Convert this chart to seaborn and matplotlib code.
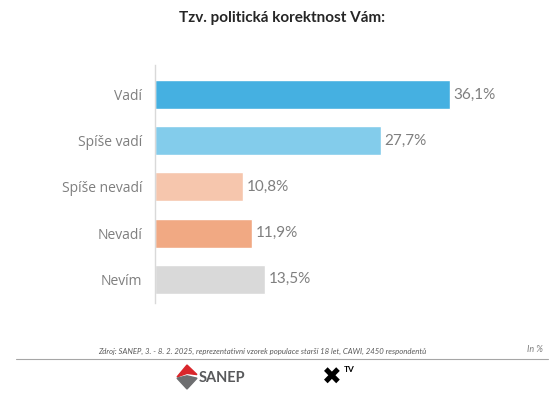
import matplotlib
matplotlib.use("Agg")
import matplotlib.pyplot as plt
import seaborn as sns
import pandas as pd
from matplotlib.patches import Polygon
from matplotlib.lines import Line2D

# data
categories = ["Vadí", "Spíše vadí", "Spíše nevadí", "Nevadí", "Nevím"]
values = [36.1, 27.7, 10.8, 11.9, 13.5]
bar_colors = ["#45B0E1", "#83CCEB", "#F6C6AD", "#F1A983", "#D9D9D9"]
value_labels = ["36,1%", "27,7%", "10,8%", "11,9%", "13,5%"]

title = "Tzv. politická korektnost Vám:"
source = "Zdroj: SANEP, 3. - 8. 2. 2025, reprezentativní vzorek populace starší 18 let, CAWI, 2450 respondentů"

sns.set_style("white")
plt.rcParams["font.family"] = ["Lato", "DejaVu Sans"]

df = pd.DataFrame({"category": categories, "value": values})

fig = plt.figure(figsize=(5.55, 3.94), dpi=100)
ax = fig.add_axes([155 / 555, 1 - 303 / 394, 327 / 555, 238 / 394])

sns.barplot(
    data=df, x="value", y="category", hue="category",
    palette=bar_colors, legend=False, width=0.63, ax=ax, saturation=1,
)

for i, (v, lab) in enumerate(zip(values, value_labels)):
    ax.text(v + 0.4, i, lab, va="center", ha="left", fontsize=11, color="#7F7F7F")

ax.set_xlim(0, 40)
ax.set_ylim(4.52, -0.65)
ax.set_xlabel("")
ax.set_ylabel("")
ax.set_xticks([])
ax.tick_params(axis="y", length=0, pad=9, labelcolor="#7F7F7F")
for lbl in ax.get_yticklabels():
    lbl.set_fontfamily(["Open Sans", "DejaVu Sans"])
    lbl.set_fontsize(10)
for side in ["top", "right", "bottom"]:
    ax.spines[side].set_visible(False)
ax.spines["left"].set_color("#D9D9D9")
ax.spines["left"].set_linewidth(1)

# title
fig.text(282 / 555, 1 - 18 / 394, title, ha="center", va="center",
         fontsize=11, fontweight="bold", color="#262626")

# footer
fig.add_artist(Line2D([16 / 555, 548 / 555], [1 - 359 / 394, 1 - 359 / 394],
                      color="#A6A6A6", linewidth=0.8))
fig.text(262 / 555, 1 - 351 / 394, source, ha="center", va="center",
         fontsize=5.6, style="italic", color="#595959")
fig.text(543 / 555, 1 - 349 / 394, "In %", ha="right", va="center",
         fontsize=6.5, style="italic", color="#7F7F7F")

# SANEP logo (simple diamond + text)
cx, cy = 187 / 555, 1 - 377 / 394
w, h = 10 / 555, 12 / 394
fig.add_artist(Polygon([[cx - w, cy], [cx, cy + h], [cx + w, cy + 0.2 * h], [cx, cy + 0.3 * h]],
                       closed=True, transform=fig.transFigure, color="#D9262B"))
fig.add_artist(Polygon([[cx - w, cy - 0.1 * h], [cx, cy + 0.1 * h], [cx + w, cy - 0.1 * h], [cx, cy - h]],
                       closed=True, transform=fig.transFigure, color="#6D6E70"))
fig.text(199 / 555, 1 - 378 / 394, "SANEP", ha="left", va="center",
         fontsize=10.5, fontweight="bold", color="#58595B")

# XTV logo
fig.text(332 / 555, 1 - 378 / 394, "\u2716", ha="center", va="center",
         fontsize=17, color="black", family=["DejaVu Sans"])
fig.text(344 / 555, 1 - 370 / 394, "TV", ha="left", va="center",
         fontsize=6, fontweight="bold", color="black")

fig.savefig("out.png", dpi=100, facecolor="white")
